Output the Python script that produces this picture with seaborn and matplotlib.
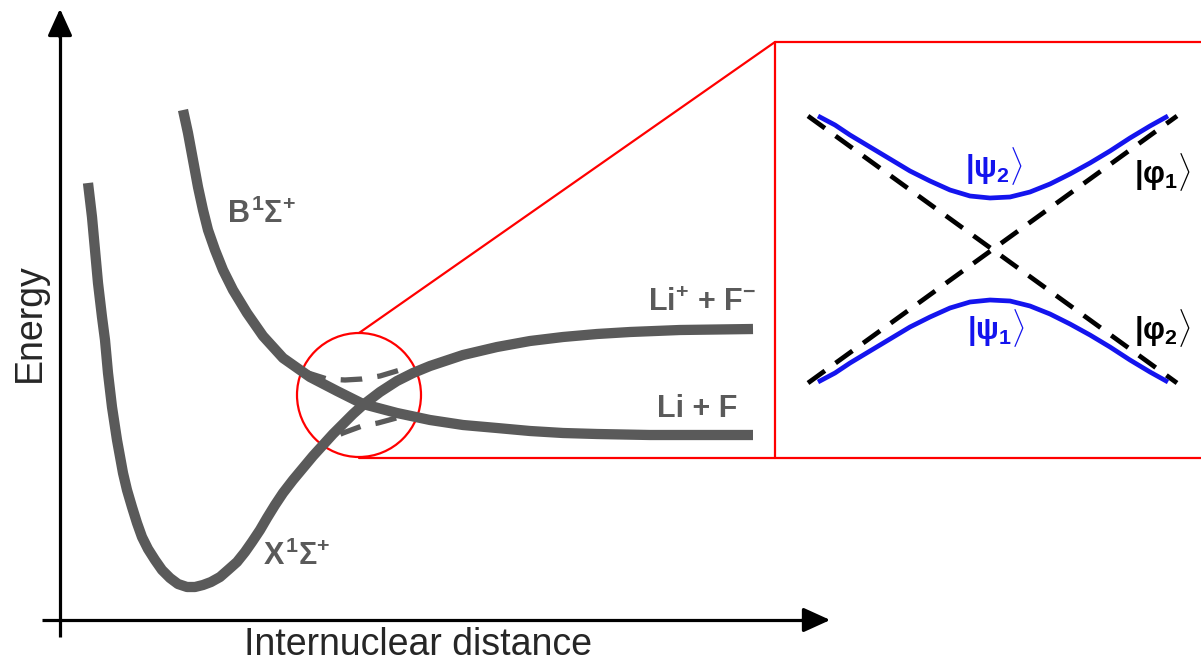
import matplotlib
matplotlib.use("Agg")
import matplotlib.pyplot as plt
from matplotlib.patches import Circle
import seaborn as sns

sns.set_style("white")
plt.rcParams["font.family"] = ["Liberation Sans", "DejaVu Sans"]
plt.rcParams["mathtext.fontset"] = "custom"
plt.rcParams["mathtext.rm"] = "Liberation Sans:bold"
plt.rcParams["mathtext.it"] = "Liberation Sans:bold"
plt.rcParams["mathtext.bf"] = "Liberation Sans:bold"
plt.rcParams["lines.scale_dashes"] = False

# ---- potential curves (canvas pixel units, y grows downward) ----
ground_x = [88, 92, 95, 98, 102, 105, 108, 112, 117, 123, 127, 132, 137, 142,
            148, 155, 162, 170, 178, 187, 195, 203, 211, 220, 228, 237, 245,
            252, 260, 267, 275, 283, 293, 303, 313, 323, 333, 343, 353, 363,
            380, 397, 413, 430, 463, 497, 530, 563, 597, 630, 680, 753]
ground_y = [183, 217, 250, 283, 317, 340, 373, 407, 440, 473, 490, 507, 523, 537,
            549, 560, 570, 578, 584, 587, 587, 585, 582, 577, 570, 562, 552,
            542, 530, 518, 505, 493, 480, 468, 456, 445, 434, 424, 414, 405,
            392, 381, 373, 366, 355, 347, 341, 337, 334, 332, 330, 329]

excited_x = [183, 188, 193, 198, 203, 208, 215, 223, 233, 247, 263, 283, 310,
             337, 363, 397, 430, 463, 497, 530, 563, 597, 650, 753]
excited_y = [110, 133, 160, 187, 210, 230, 250, 270, 290, 313, 336, 358, 377,
             391, 404, 413, 420, 425, 428, 431, 433, 434, 435, 435]

diab_up_x = [305, 327, 345, 362, 380, 400]
diab_up_y = [372, 379, 380, 379, 376, 370]
diab_lo_x = [322, 330, 343, 362, 378, 400]
diab_lo_y = [444, 439, 433, 426, 423, 417]

# ---- avoided crossing (inset) ----
phi_a_x = [808, 1177]
phi_a_y = [116, 383]
phi_b_x = [808, 1177]
phi_b_y = [383, 116]

psi2_x = [818, 835, 850, 870, 890, 910, 930, 950, 970, 990, 1010, 1030, 1050,
          1070, 1090, 1110, 1130, 1150, 1168]
psi2_y = [116, 125, 135, 147, 159, 171, 181, 190, 196, 198, 197, 192, 184,
          174, 163, 151, 138, 126, 116]
psi1_x = psi2_x
psi1_y = [498 - v for v in psi2_y]

state_labels = [r"$B^{1}\Sigma^{+}$", r"$X^{1}\Sigma^{+}$",
                r"$\mathregular{Li^{+}}$ + $\mathregular{F^{-}}$", "Li + F"]
inset_labels = [r"$|\psi_{2}\rangle$", r"$|\psi_{1}\rangle$",
                r"$|\varphi_{1}\rangle$", r"$|\varphi_{2}\rangle$"]

GRAY = "#5a5a5a"
BLUE = "#1414ee"
RED = "#ff0000"

fig = plt.figure(figsize=(12.01, 6.62), dpi=100)
ax = fig.add_axes([0, 0, 1, 1])
ax.set_xlim(0, 1201)
ax.set_ylim(662, 0)
ax.axis("off")

# axes arrows
ax.plot([60, 60], [637, 30], color="black", lw=2.3, solid_capstyle="butt")
ax.annotate("", xy=(60, 6), xytext=(60, 40),
            arrowprops=dict(arrowstyle="-|>,head_length=0.55,head_width=0.25",
                            color="black", lw=2.3, mutation_scale=30))
ax.plot([42, 810], [620, 620], color="black", lw=2.3, solid_capstyle="butt")
ax.annotate("", xy=(833, 620), xytext=(800, 620),
            arrowprops=dict(arrowstyle="-|>,head_length=0.55,head_width=0.25",
                            color="black", lw=2.3, mutation_scale=30))
ax.text(30, 323, "Energy", rotation=90, ha="center", va="center", fontsize=27)
ax.text(418, 645, "Internuclear distance", ha="center", va="center", fontsize=27)

# red zoom frame
ax.add_patch(Circle((359, 395), 62, fill=False, edgecolor=RED, lw=1.6, zorder=3))
ax.plot([359, 775], [333, 42], color=RED, lw=1.6)
ax.plot([359, 1201], [457.5, 457.5], color=RED, lw=1.6)
ax.plot([775, 775], [42, 458], color=RED, lw=1.6)
ax.plot([775, 1201], [42, 42], color=RED, lw=1.6)

# potential curves
sns.lineplot(x=ground_x, y=ground_y, ax=ax, color=GRAY, linewidth=7.4,
             sort=False, estimator=None, solid_capstyle="butt", zorder=4)
sns.lineplot(x=excited_x, y=excited_y, ax=ax, color=GRAY, linewidth=7.4,
             sort=False, estimator=None, solid_capstyle="butt", zorder=4)
sns.lineplot(x=diab_up_x, y=diab_up_y, ax=ax, color=GRAY, linewidth=3.8,
             sort=False, estimator=None, linestyle=(0, (15.5, 11)),
             dash_capstyle="butt", zorder=4)
sns.lineplot(x=diab_lo_x, y=diab_lo_y, ax=ax, color=GRAY, linewidth=3.8,
             sort=False, estimator=None, linestyle=(11.5, (15.5, 11)),
             dash_capstyle="butt", zorder=4)

# inset curves
for xs, ys in [(phi_a_x, phi_a_y), (phi_b_x, phi_b_y)]:
    sns.lineplot(x=xs, y=ys, ax=ax, color="black", linewidth=3.4,
                 sort=False, estimator=None, linestyle=(0, (15, 9.5)),
                 dash_capstyle="butt")
for xs, ys in [(psi2_x, psi2_y), (psi1_x, psi1_y)]:
    sns.lineplot(x=xs, y=ys, ax=ax, color=BLUE, linewidth=3.4,
                 sort=False, estimator=None, solid_capstyle="butt", zorder=3)

# labels
lbl = dict(color=GRAY, fontsize=22, fontweight="bold", ha="center", va="center")
ax.text(262, 214, state_labels[0], **lbl)
ax.text(297, 556, state_labels[1], **lbl)
ax.text(702, 303, state_labels[2], **lbl)
ax.text(697, 409, state_labels[3], **lbl)

ax.text(994, 166, inset_labels[0], color=BLUE, fontsize=22, ha="center", va="center")
ax.text(996, 328, inset_labels[1], color=BLUE, fontsize=22, ha="center", va="center")
ax.text(1162, 172, inset_labels[2], color="black", fontsize=22, ha="center", va="center")
ax.text(1162, 328, inset_labels[3], color="black", fontsize=22, ha="center", va="center")

fig.savefig("out.png", dpi=100)
